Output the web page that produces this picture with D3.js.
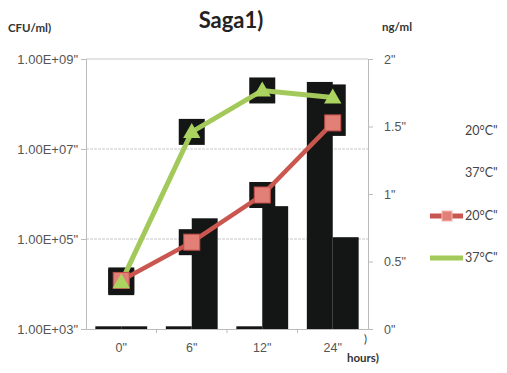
<!DOCTYPE html>
<html>
<head>
<meta charset="utf-8">
<script src="https://cdn.jsdelivr.net/npm/d3@7"></script>
<style>
body { margin:0; background:#fff; }
svg { font-family: Lato, "Open Sans", sans-serif; }
</style>
</head>
<body>
<svg class="myChart" width="507" height="373"></svg>
<script>
// categories (hours)
const hours = ["0\"", "6\"", "12\"", "24\""];
// bars, ng/ml (right axis)
const bar20 = [0.02, 0.02, 0.02, 1.83];
const bar37 = [0.02, 0.82, 0.91, 0.68];
// lines, CFU/ml (left log axis)
const cfu20 = [1.2e4, 8.5e4, 9.5e5, 3.8e7];
const cfu37 = [1.1e4, 2.4e7, 2.0e8, 1.4e8];
// tick labels
const leftTicks = [1e3, 1e5, 1e7, 1e9];
const leftLabels = ["1.00E+03\"", "1.00E+05\"", "1.00E+07\"", "1.00E+09\""];
const rightTicks = [0, 0.5, 1, 1.5, 2];
const rightLabels = ["0\"", "0.5\"", "1\"", "1.5\"", "2\""];
const legendNames = ["20°C\"", "37°C\"", "20°C\"", "37°C\""];

const svg = d3.select('svg.myChart');
const margin = {top:59, right:139, bottom:44, left:86};
const W = 507, H = 373;
const innerWidth = W - margin.left - margin.right;
const innerHeight = H - margin.top - margin.bottom;

const green = "#a3c95a", red = "#c9574f";

const x = d3.scaleBand().domain(hours).range([0, innerWidth]);
const xSub = d3.scaleBand().domain(["a","b"]).range([0, x.bandwidth()]).paddingOuter(0.36);
const yL = d3.scaleLog().domain([1e3, 1e9]).range([innerHeight, 0]);
const yR = d3.scaleLinear().domain([0, 2]).range([innerHeight, 0]);

const g = svg.append('g').attr('transform', `translate(${margin.left},${margin.top})`);

// grid + frame
g.selectAll('.grid').data(leftTicks.slice(1, 3)).enter().append('line')
  .attr('x1', 0).attr('x2', innerWidth)
  .attr('y1', d => yL(d)).attr('y2', d => yL(d))
  .attr('stroke', '#c8c8c8').attr('stroke-dasharray', '3,1');
g.append('line').attr('x1', 0).attr('x2', innerWidth).attr('y1', 0).attr('y2', 0).attr('stroke', '#c8c8c8');

// left axis
const yAxisL = d3.axisLeft(yL).tickValues(leftTicks).tickSize(5).tickPadding(3)
  .tickFormat((d, i) => leftLabels[i]);
const gl = g.append('g').call(yAxisL);
gl.select('.domain').attr('stroke', '#bbb');
gl.selectAll('.tick line').attr('stroke', '#bbb');
gl.selectAll('text').attr('fill', '#555').attr('font-size', 13);

// right axis
const yAxisR = d3.axisRight(yR).tickValues(rightTicks).tickSize(5).tickPadding(11)
  .tickFormat((d, i) => rightLabels[i]);
const gr = g.append('g').attr('transform', `translate(${innerWidth},0)`).call(yAxisR);
gr.select('.domain').attr('stroke', '#bbb');
gr.selectAll('.tick line').attr('stroke', '#bbb');
gr.selectAll('text').attr('fill', '#555').attr('font-size', 12.5);

// x axis
const xAxis = d3.axisBottom(x).tickSize(0).tickPadding(14);
const gx = g.append('g').attr('transform', `translate(0,${innerHeight})`).call(xAxis);
gx.select('.domain').attr('stroke', '#bbb');
gx.selectAll('text').attr('fill', '#555').attr('font-size', 12.5);
g.selectAll('.xtick').data(hours.slice(1)).enter().append('line')
  .attr('x1', d => x(d)).attr('x2', d => x(d))
  .attr('y1', innerHeight).attr('y2', innerHeight + 4).attr('stroke', '#bbb');

// bars
const bars = hours.map((h, i) => ({h, a: bar20[i], b: bar37[i]}));
const grp = g.selectAll('.grp').data(bars).enter().append('g')
  .attr('transform', d => `translate(${x(d.h)},0)`);
grp.selectAll('rect').data(d => [{k:"a", v:d.a}, {k:"b", v:d.b}]).enter().append('rect')
  .attr('x', d => xSub(d.k))
  .attr('width', xSub.bandwidth())
  .attr('y', d => yR(d.v))
  .attr('height', d => innerHeight - yR(d.v))
  .attr('fill', '#141616');

// dark squares behind markers
const cx = d => x(d) + x.bandwidth() / 2;
const pts20 = hours.map((h, i) => ({h, v: cfu20[i]}));
const pts37 = hours.map((h, i) => ({h, v: cfu37[i]}));
g.selectAll('.bk').data(pts20.concat(pts37)).enter().append('rect')
  .attr('x', d => cx(d.h) - 13).attr('y', d => yL(d.v) - 13)
  .attr('width', 26).attr('height', 26).attr('fill', '#141616');

// lines
const line = d3.line().x(d => cx(d.h)).y(d => yL(d.v));
g.append('path').datum(pts20).attr('d', line).attr('fill', 'none')
  .attr('stroke', red).attr('stroke-width', 4.5);
g.append('path').datum(pts37).attr('d', line).attr('fill', 'none')
  .attr('stroke', green).attr('stroke-width', 5);

// markers
g.selectAll('.m20').data(pts20).enter().append('rect')
  .attr('x', d => cx(d.h) - 8).attr('y', d => yL(d.v) - 8)
  .attr('width', 16).attr('height', 16)
  .attr('fill', '#e27f76').attr('stroke', '#c44f48').attr('stroke-width', 1);
const tri = d3.symbol().type(d3.symbolTriangle).size(130);
g.selectAll('.m37').data(pts37).enter().append('path')
  .attr('d', tri)
  .attr('transform', d => `translate(${cx(d.h)},${yL(d.v) + 1})`)
  .attr('fill', '#abd35f');

// title and axis titles
svg.append('text').attr('x', 231).attr('y', 28).attr('text-anchor', 'middle')
  .attr('font-size', 22).attr('font-weight', 'bold').attr('fill', '#222').text('Saga1)');
svg.append('text').attr('x', 8).attr('y', 32).attr('font-size', 11.5)
  .attr('font-weight', 'bold').attr('fill', '#333').text('CFU/ml)');
svg.append('text').attr('x', 382).attr('y', 31).attr('font-size', 11.5)
  .attr('font-weight', 'bold').attr('fill', '#333').text('ng/ml');
svg.append('text').attr('x', 347).attr('y', 362).attr('font-size', 11.5)
  .attr('font-weight', 'bold').attr('fill', '#333').text('hours)');
svg.append('text').attr('x', 364).attr('y', 343).attr('font-size', 11)
  .attr('fill', '#333').text(')');

// legend
const legY = [131, 173, 216, 258];
const lg = svg.selectAll('.leg').data(legendNames).enter().append('g')
  .attr('transform', (d, i) => `translate(465,${legY[i]})`);
lg.append('text').attr('dy', '0.35em').attr('font-size', 12.5).attr('fill', '#444').text(d => d);
lg.filter((d, i) => i >= 2).append('line')
  .attr('x1', -35).attr('x2', -2).attr('y1', 0).attr('y2', 0)
  .attr('stroke', (d, i) => i === 0 ? red : green).attr('stroke-width', 5);
lg.filter((d, i) => i === 2).append('rect')
  .attr('x', -23).attr('y', -5).attr('width', 10).attr('height', 10)
  .attr('fill', '#e27f76').attr('stroke', '#f3b9b2');
</script>
</body>
</html>
